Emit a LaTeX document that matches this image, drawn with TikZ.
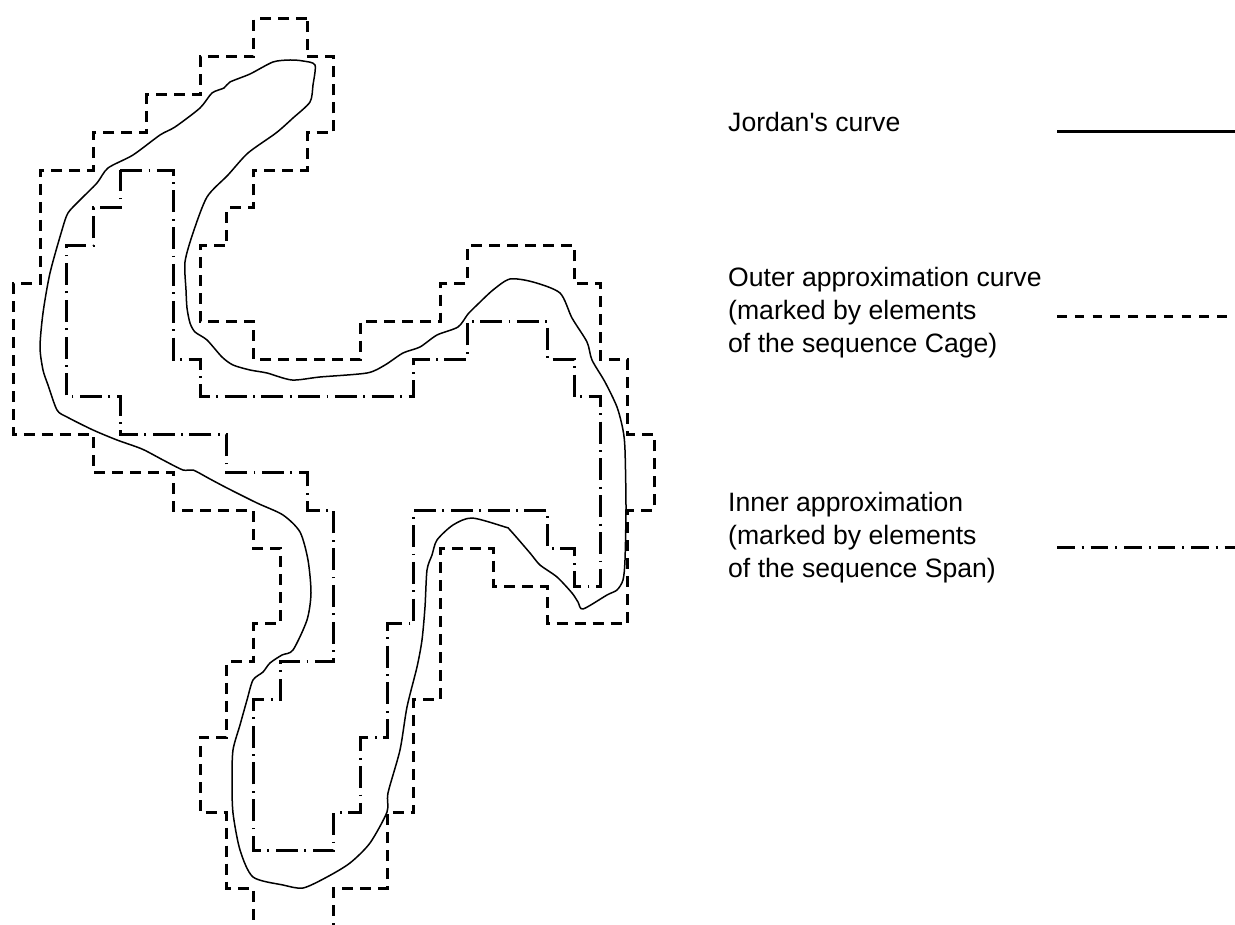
\documentclass[tikz,border=0pt]{standalone}
\usepackage{fontspec}
\setmainfont{Liberation Sans}
\begin{document}
\begin{tikzpicture}[x=1pt,y=-1pt,
  outerline/.style={line width=3pt, dash pattern=on 11pt off 7pt},
  innerline/.style={line width=3pt, dash pattern=on 22pt off 6.5pt on 1.8pt off 6.5pt},
  jordan/.style={line width=1.5pt, line join=round},
  legtext/.style={anchor=base west, inner sep=0pt, font=\fontsize{26.6}{33}\selectfont}]
\useasboundingbox (0,0) rectangle (1235,925);
\begin{scope}[xshift=13.3pt, yshift=-19pt, x=26.7pt, y=-37.8pt]
% outer approximation (Cage)
\draw[outerline] (11,0) -- (9,0) -- (9,1) -- (7,1) -- (7,2) -- (5,2) -- (5,3) -- (3,3) -- (3,4) -- (1,4) -- (1,7) -- (0,7) -- (0,11) -- (3,11) -- (3,12) -- (6,12) -- (6,13) -- (9,13) -- (9,14) -- (10,14) -- (10,16) -- (9,16) -- (9,17) -- (8,17) -- (8,19) -- (7,19) -- (7,21) -- (8,21) -- (8,23) -- (9,23) -- (9,24) -- (12,24) -- (12,23) -- (14,23) -- (14,21) -- (15,21) -- (15,18) -- (16,18) -- (16,14) -- (18,14) -- (18,15) -- (20,15) -- (20,16) -- (23,16) -- (23,13) -- (24,13) -- (24,11) -- (23,11) -- (23,9) -- (22,9) -- (22,7) -- (21,7) -- (21,6) -- (17,6) -- (17,7) -- (16,7) -- (16,8) -- (13,8) -- (13,9) -- (9,9) -- (9,8) -- (7,8) -- (7,6) -- (8,6) -- (8,5) -- (9,5) -- (9,4) -- (11,4) -- (11,3) -- (12,3) -- (12,1) -- (11,1) -- cycle;
% inner approximation (Span)
\draw[innerline] (4,4) -- (6,4) -- (6,9) -- (7,9) -- (7,10) -- (15,10) -- (15,9) -- (17,9) -- (17,8) -- (20,8) -- (20,9) -- (21,9) -- (21,10) -- (22,10) -- (22,15) -- (21,15) -- (21,14) -- (20,14) -- (20,13) -- (15,13) -- (15,16) -- (14,16) -- (14,19) -- (13,19) -- (13,21) -- (12,21) -- (12,22) -- (9,22) -- (9,18) -- (10,18) -- (10,17) -- (12,17) -- (12,13) -- (11,13) -- (11,12) -- (8,12) -- (8,11) -- (4,11) -- (4,10) -- (2,10) -- (2,6) -- (3,6) -- (3,5) -- (4,5) -- cycle;
\end{scope}
% Jordan's curve
\draw[jordan] plot[smooth cycle, tension=0.45] coordinates {
(273,62) (290,60) (303,61) (315,65) (313,85) (310,102) (293,118) (276,133) (248,153) (228,175) (207,197) (193,233) (185,262) (186,290) (187,308) (190,323) (195,332) (207,340) (222,357) (233,365) (250,370) (267,373) (292,380) (320,377) (367,373) (385,365) (403,353) (420,347) (437,335) (458,327) (468,314) (477,305) (493,290) (510,279) (533,282) (560,293) (572,318) (587,342) (592,360) (605,382) (617,407) (623,430) (625,450) (626,507) (625,560) (623,580) (617,590) (607,595) (583,609) (578,602) (572,593) (557,577) (540,565) (530,553) (510,530) (505,527) (472,518) (453,525) (437,540) (432,555) (427,570) (425,607) (422,640) (417,667) (407,707) (400,750) (388,793) (387,812) (370,843) (350,863) (327,877) (303,888) (283,885) (253,877) (240,850) (233,813) (232,780) (233,750) (240,725) (247,700) (253,680) (263,672) (270,663) (282,655) (293,650) (307,620) (311,593) (308,560) (300,532) (283,515) (257,503) (227,488) (210,479) (193,470) (183,470) (163,460) (142,449) (117,440) (93,430) (67,417) (57,410) (48,385) (43,370) (40,347) (43,313) (50,273) (62,230) (68,213) (80,200) (97,183) (108,168) (133,155) (160,135) (175,127) (200,108) (212,93) (224,88) (230,82) (250,74)};
% legend
\node[legtext] (t1) at (728,132) {Jordan\textquotesingle s curve};
\node[legtext] (t2) at (728,287) {Outer approximation curve};
\node[legtext] (t3) at (728,320) {(marked by elements};
\node[legtext] (t4) at (728,353) {of the sequence Cage)};
\node[legtext] (t5) at (728,511) {Inner approximation};
\node[legtext] (t6) at (728,544) {(marked by elements};
\node[legtext] (t7) at (728,577) {of the sequence Span)};
\coordinate (a1) at (1057,132); \coordinate (b1) at (1235,132);
\coordinate (a2) at (1057,317); \coordinate (b2) at (1235,317);
\coordinate (a3) at (1057,547); \coordinate (b3) at (1235,547);
\draw[line width=3pt] (a1) -- (b1);
\draw[line width=3pt, dash pattern=on 9.5pt off 8.3pt] (a2) -- (b2);
\draw[line width=3pt, dash pattern=on 17.7pt off 7pt on 1.8pt off 7pt] (a3) -- (b3);
\end{tikzpicture}
\end{document}
